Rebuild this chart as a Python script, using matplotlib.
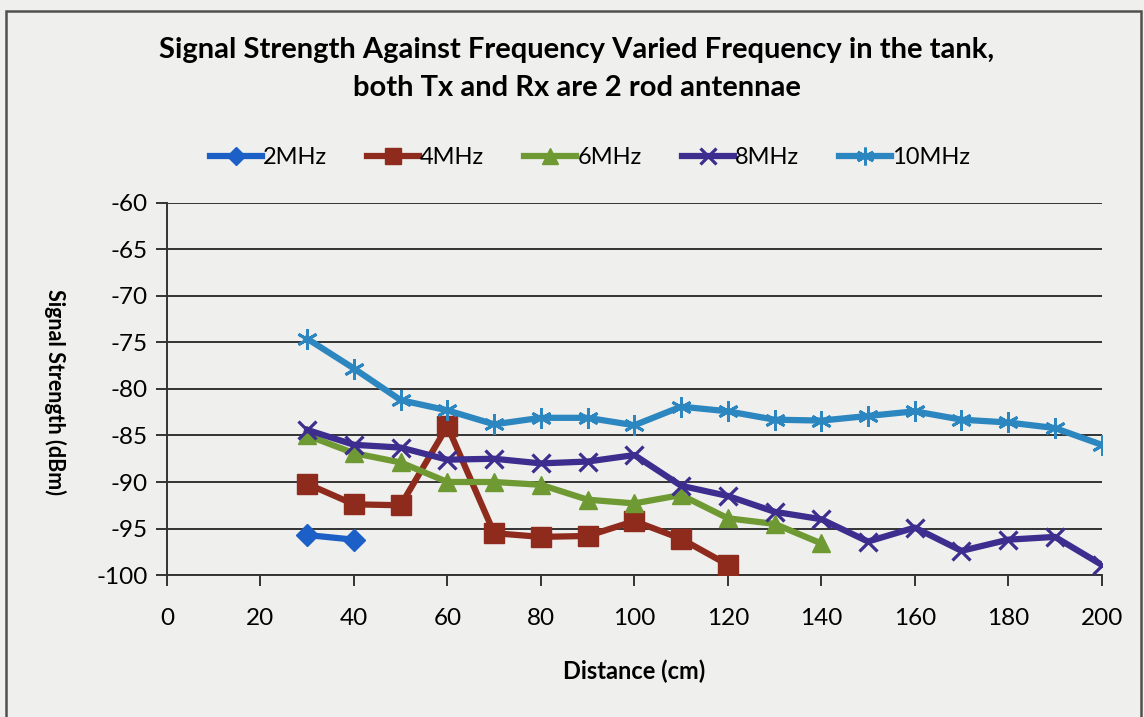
import matplotlib
matplotlib.use("Agg")
import matplotlib.pyplot as plt
from matplotlib.patches import Rectangle

plt.rcParams['font.family'] = ['Lato', 'DejaVu Sans']
plt.rcParams['axes.unicode_minus'] = False

# Distance (cm) and measured signal strength (dBm) for each frequency
dist_2mhz = [30, 40]
sig_2mhz = [-95.7, -96.2]

dist_4mhz = [30, 40, 50, 60, 70, 80, 90, 100, 110, 120]
sig_4mhz = [-90.2, -92.4, -92.5, -84.0, -95.5, -95.9, -95.8, -94.2, -96.1, -98.9]

dist_6mhz = [30, 40, 50, 60, 70, 80, 90, 100, 110, 120, 130, 140]
sig_6mhz = [-85.0, -86.9, -87.9, -90.0, -90.0, -90.3, -91.9, -92.3, -91.4, -93.9, -94.5, -96.6]

dist_8mhz = [30, 40, 50, 60, 70, 80, 90, 100, 110, 120, 130, 140, 150, 160, 170, 180, 190, 200]
sig_8mhz = [-84.4, -86.0, -86.3, -87.6, -87.5, -88.0, -87.8, -87.1, -90.4, -91.5, -93.2,
            -94.0, -96.4, -94.9, -97.4, -96.2, -95.9, -98.9]

dist_10mhz = [30, 40, 50, 60, 70, 80, 90, 100, 110, 120, 130, 140, 150, 160, 170, 180, 190, 200]
sig_10mhz = [-74.6, -77.8, -81.2, -82.3, -83.8, -83.1, -83.1, -83.9, -81.9, -82.4, -83.3,
             -83.4, -82.9, -82.4, -83.3, -83.6, -84.2, -86.0]

labels = ['2MHz', '4MHz', '6MHz', '8MHz', '10MHz']
x_ticks = list(range(0, 201, 20))
y_ticks = list(range(-100, -59, 5))

bg = '#efefed'
fig = plt.figure(figsize=(11.44, 7.17), dpi=100, facecolor=bg)
ax = fig.add_axes([0.146, 0.198, 0.817, 0.519])
ax.set_facecolor(bg)

# chart frame
fig.patches.append(Rectangle((6 / 1144, -0.05), 1135 / 1144, 1 - 11 / 717 + 0.05,
                             transform=fig.transFigure, fill=False,
                             edgecolor='#505050', linewidth=1.8, zorder=0))

series = [
    (dist_2mhz, sig_2mhz, '#1c5fc6', 'D', 11, None),
    (dist_4mhz, sig_4mhz, '#8e2b1c', 's', 14, None),
    (dist_6mhz, sig_6mhz, '#6f9a33', '^', 13, None),
    (dist_8mhz, sig_8mhz, '#3c2d8e', 'x', 13, 2.3),
    (dist_10mhz, sig_10mhz, '#2c86bf', (6, 2, 0), 15, 2.1),
]

for (xs, ys, c, m, ms, mew), lab in zip(series, labels):
    kw = dict(markeredgewidth=mew) if mew else dict(markeredgecolor=c)
    ax.plot(xs, ys, color=c, linewidth=4.5, marker=m, markersize=ms,
            markerfacecolor=c, label=lab, solid_joinstyle='round', zorder=3, **kw)

ax.set_xlim(0, 200)
ax.set_ylim(-100, -60)
ax.set_xticks(x_ticks)
ax.set_yticks(y_ticks)
ax.grid(axis='y', color='#333333', linewidth=1.4)
ax.set_axisbelow(True)
for s in ['top', 'right']:
    ax.spines[s].set_visible(False)
for s in ['left', 'bottom']:
    ax.spines[s].set_color('#333333')
    ax.spines[s].set_linewidth(1.4)
ax.tick_params(axis='both', direction='out', length=8, width=1.4, color='#333333',
               labelsize=17.5, pad=6)
ax.tick_params(axis='x', pad=16)

ax.set_xlabel('Distance (cm)', fontsize=17, fontweight='bold', labelpad=22)
fig.text(55 / 1144, 1 - 392 / 717, 'Signal Strength (dBm)', rotation=-90,
         ha='center', va='center', fontsize=15.5, fontweight='bold')

fig.text(577 / 1144, 1 - 50 / 717,
         'Signal Strength Against Frequency Varied Frequency in the tank,',
         ha='center', va='center', fontsize=21, fontweight='bold')
fig.text(577 / 1144, 1 - 88 / 717, 'both Tx and Rx are 2 rod antennae',
         ha='center', va='center', fontsize=21, fontweight='bold')

leg = fig.legend(loc='center', bbox_to_anchor=(590 / 1144, 1 - 158 / 717), ncol=5,
                 frameon=False, fontsize=17, handlelength=2.2, handletextpad=0.05,
                 columnspacing=1.7, markerscale=0.85)

fig.savefig('out.png', dpi=100, facecolor=bg)
